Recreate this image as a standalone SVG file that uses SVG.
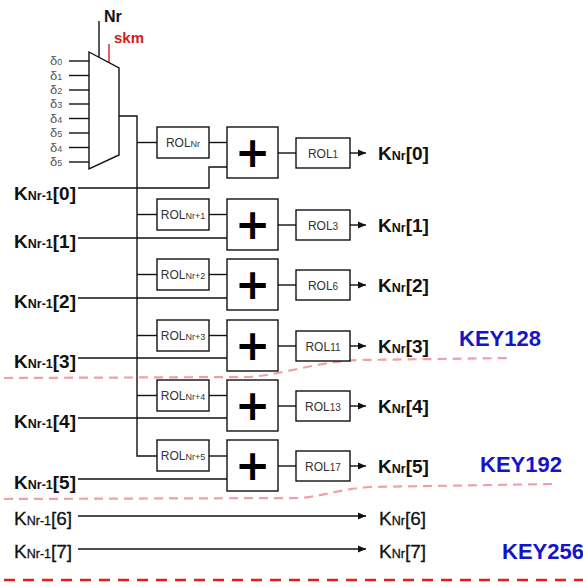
<svg xmlns="http://www.w3.org/2000/svg" width="583" height="587" viewBox="0 0 583 587">
<style>
.ln{stroke:#111;stroke-width:1.4;fill:none}
.bx{stroke:#111;stroke-width:1.4;fill:#fff}
.rol{font-family:"Liberation Sans",Arial,sans-serif;font-size:12px;fill:#333;text-anchor:middle}
.sub{font-size:9px}
.rsub{font-size:10px}
.k{font-family:"Liberation Sans",Arial,sans-serif;font-size:19px;font-weight:bold;fill:#111}
.kn{font-family:"Liberation Sans",Arial,sans-serif;font-size:19px;fill:#111;stroke:#111;stroke-width:0.3}
.ks{font-size:12.5px}
.plus{font-family:"DejaVu Sans",sans-serif;font-size:42px;font-weight:bold;fill:#000;text-anchor:middle}
.d{font-family:"Liberation Sans",Arial,sans-serif;font-size:13px;fill:#555}
.dsub{font-size:9px}
.key{font-family:"Liberation Sans",Arial,sans-serif;font-size:22px;font-weight:bold;fill:#1414c8}
.pk{stroke:#f0a0a4;stroke-width:2.2;fill:none;stroke-dasharray:9 6}
</style>
<defs>
<marker id="ah" markerUnits="userSpaceOnUse" markerWidth="8" markerHeight="8" refX="8" refY="4" orient="auto"><path d="M0,0.5 L8,4 L0,7.5 z" fill="#111"/></marker>
</defs>

<g id="connectors">
<line class="ln" x1="99" y1="21" x2="99" y2="57"/>
<line x1="109" y1="44" x2="109" y2="63" stroke="#d42020" stroke-width="1.4"/>
<line class="ln" x1="69" y1="61" x2="89" y2="61"/>
<line class="ln" x1="69" y1="75.5" x2="89" y2="75.5"/>
<line class="ln" x1="69" y1="90" x2="89" y2="90"/>
<line class="ln" x1="69" y1="104" x2="89" y2="104"/>
<line class="ln" x1="69" y1="118.5" x2="89" y2="118.5"/>
<line class="ln" x1="69" y1="133" x2="89" y2="133"/>
<line class="ln" x1="69" y1="147.5" x2="89" y2="147.5"/>
<line class="ln" x1="69" y1="162" x2="89" y2="162"/>
<polyline class="ln" points="119,116 137,116 137,456 157,456"/>
<line class="ln" x1="137" y1="142.5" x2="157" y2="142.5"/>
<line class="ln" x1="137" y1="214.5" x2="157" y2="214.5"/>
<line class="ln" x1="137" y1="274.5" x2="157" y2="274.5"/>
<line class="ln" x1="137" y1="335.5" x2="157" y2="335.5"/>
<line class="ln" x1="137" y1="395.5" x2="157" y2="395.5"/>
<line class="ln" x1="209" y1="142.5" x2="227" y2="142.5"/>
<line class="ln" x1="209" y1="214.5" x2="227" y2="214.5"/>
<line class="ln" x1="209" y1="274.5" x2="227" y2="274.5"/>
<line class="ln" x1="209" y1="335.5" x2="227" y2="335.5"/>
<line class="ln" x1="209" y1="395.5" x2="227" y2="395.5"/>
<line class="ln" x1="209" y1="456" x2="227" y2="456"/>
<polyline class="ln" points="78,188 209,188 209,167 227,167"/>
<line class="ln" x1="78" y1="238" x2="227" y2="238"/>
<line class="ln" x1="78" y1="298" x2="227" y2="298"/>
<line class="ln" x1="78" y1="358" x2="227" y2="358" stroke-width="2.2"/>
<line class="ln" x1="78" y1="418" x2="227" y2="418"/>
<line class="ln" x1="78" y1="479" x2="227" y2="479"/>
<line class="ln" x1="278" y1="153" x2="296" y2="153"/>
<line class="ln" x1="278" y1="225" x2="296" y2="225"/>
<line class="ln" x1="278" y1="285" x2="296" y2="285"/>
<line class="ln" x1="278" y1="346" x2="296" y2="346"/>
<line class="ln" x1="278" y1="406" x2="296" y2="406"/>
<line class="ln" x1="278" y1="466" x2="296" y2="466"/>
<line class="ln" x1="350" y1="153" x2="366" y2="153" marker-end="url(#ah)"/>
<line class="ln" x1="350" y1="225" x2="366" y2="225" marker-end="url(#ah)"/>
<line class="ln" x1="350" y1="285" x2="366" y2="285" marker-end="url(#ah)"/>
<line class="ln" x1="350" y1="346" x2="366" y2="346" marker-end="url(#ah)"/>
<line class="ln" x1="350" y1="406" x2="366" y2="406" marker-end="url(#ah)"/>
<line class="ln" x1="350" y1="466" x2="366" y2="466" marker-end="url(#ah)"/>
<line class="ln" x1="78" y1="516" x2="366" y2="516" marker-end="url(#ah)"/>
<line class="ln" x1="78" y1="549" x2="366" y2="549" marker-end="url(#ah)"/>
</g>

<g id="boundaries">
<path class="pk" d="M4,378 L250,377 C285,374 315,362 360,360 L512,358"/>
<path class="pk" d="M4,499 L300,498 C325,496 340,489 370,487 L553,484"/>
<line x1="4" y1="580" x2="583" y2="580" stroke="#dd2020" stroke-width="2.6" stroke-dasharray="11 8"/>
</g>

<g id="mux">
<polygon class="bx" points="89,52 119,68 119,155 89,169"/>
<text x="104" y="22" font-family="Liberation Sans,Arial,sans-serif" font-size="16" font-weight="bold" fill="#111">Nr</text>
<text x="114" y="43" font-family="Liberation Sans,Arial,sans-serif" font-size="15" font-weight="bold" fill="#d42020">skm</text>
<text class="d" x="50" y="65">δ<tspan class="dsub">0</tspan></text>
<text class="d" x="50" y="79.5">δ<tspan class="dsub">1</tspan></text>
<text class="d" x="50" y="94">δ<tspan class="dsub">2</tspan></text>
<text class="d" x="50" y="108">δ<tspan class="dsub">3</tspan></text>
<text class="d" x="50" y="122.5">δ<tspan class="dsub">4</tspan></text>
<text class="d" x="50" y="137">δ<tspan class="dsub">5</tspan></text>
<text class="d" x="50" y="151.5">δ<tspan class="dsub">4</tspan></text>
<text class="d" x="50" y="166">δ<tspan class="dsub">5</tspan></text>
</g>

<g id="row0">
<rect class="bx" x="157" y="127" width="52" height="31"/>
<text class="rol" x="183" y="147">ROL<tspan class="sub">Nr</tspan></text>
<rect class="bx" x="227" y="127" width="51" height="51"/>
<text class="plus" x="252.5" y="167">+</text>
<rect class="bx" x="296" y="138" width="54" height="30"/>
<text class="rol" x="323" y="158">ROL<tspan class="rsub">1</tspan></text>
</g>
<g id="row1">
<rect class="bx" x="157" y="199" width="52" height="31"/>
<text class="rol" x="183" y="219">ROL<tspan class="sub">Nr+1</tspan></text>
<rect class="bx" x="227" y="199" width="51" height="51"/>
<text class="plus" x="252.5" y="239">+</text>
<rect class="bx" x="296" y="210" width="54" height="30"/>
<text class="rol" x="323" y="230">ROL<tspan class="rsub">3</tspan></text>
</g>
<g id="row2">
<rect class="bx" x="157" y="259" width="52" height="31"/>
<text class="rol" x="183" y="279">ROL<tspan class="sub">Nr+2</tspan></text>
<rect class="bx" x="227" y="259" width="51" height="51"/>
<text class="plus" x="252.5" y="299">+</text>
<rect class="bx" x="296" y="270" width="54" height="30"/>
<text class="rol" x="323" y="290">ROL<tspan class="rsub">6</tspan></text>
</g>
<g id="row3">
<rect class="bx" x="157" y="320" width="52" height="31"/>
<text class="rol" x="183" y="340">ROL<tspan class="sub">Nr+3</tspan></text>
<rect class="bx" x="227" y="320" width="51" height="51"/>
<text class="plus" x="252.5" y="360">+</text>
<rect class="bx" x="296" y="331" width="54" height="30"/>
<text class="rol" x="323" y="351">ROL<tspan class="rsub">11</tspan></text>
</g>
<g id="row4">
<rect class="bx" x="157" y="380" width="52" height="31"/>
<text class="rol" x="183" y="400">ROL<tspan class="sub">Nr+4</tspan></text>
<rect class="bx" x="227" y="380" width="51" height="51"/>
<text class="plus" x="252.5" y="420">+</text>
<rect class="bx" x="296" y="391" width="54" height="30"/>
<text class="rol" x="323" y="411">ROL<tspan class="rsub">13</tspan></text>
</g>
<g id="row5">
<rect class="bx" x="157" y="440" width="52" height="31"/>
<text class="rol" x="183" y="460">ROL<tspan class="sub">Nr+5</tspan></text>
<rect class="bx" x="227" y="440" width="51" height="51"/>
<text class="plus" x="252.5" y="480">+</text>
<rect class="bx" x="296" y="451" width="54" height="30"/>
<text class="rol" x="323" y="471">ROL<tspan class="rsub">17</tspan></text>
</g>

<g id="inputs">
<text class="k" x="14" y="200">K<tspan class="ks">Nr-1</tspan>[0]</text>
<text class="k" x="14" y="248">K<tspan class="ks">Nr-1</tspan>[1]</text>
<text class="k" x="14" y="308">K<tspan class="ks">Nr-1</tspan>[2]</text>
<text class="k" x="14" y="368">K<tspan class="ks">Nr-1</tspan>[3]</text>
<text class="k" x="14" y="428">K<tspan class="ks">Nr-1</tspan>[4]</text>
<text class="k" x="14" y="489">K<tspan class="ks">Nr-1</tspan>[5]</text>
<text class="kn" x="14" y="525">K<tspan class="ks">Nr-1</tspan>[6]</text>
<text class="kn" x="14" y="558">K<tspan class="ks">Nr-1</tspan>[7]</text>
</g>

<g id="outputs">
<text class="k" x="378" y="160">K<tspan class="ks">Nr</tspan>[0]</text>
<text class="k" x="378" y="232">K<tspan class="ks">Nr</tspan>[1]</text>
<text class="k" x="378" y="292">K<tspan class="ks">Nr</tspan>[2]</text>
<text class="k" x="378" y="353">K<tspan class="ks">Nr</tspan>[3]</text>
<text class="k" x="378" y="413">K<tspan class="ks">Nr</tspan>[4]</text>
<text class="k" x="378" y="473">K<tspan class="ks">Nr</tspan>[5]</text>
<text class="kn" x="379" y="525">K<tspan class="ks">Nr</tspan>[6]</text>
<text class="kn" x="379" y="558">K<tspan class="ks">Nr</tspan>[7]</text>
</g>

<g id="keys">
<text class="key" x="459" y="346">KEY128</text>
<text class="key" x="480" y="472">KEY192</text>
<text class="key" x="502" y="559">KEY256</text>
</g>
</svg>
